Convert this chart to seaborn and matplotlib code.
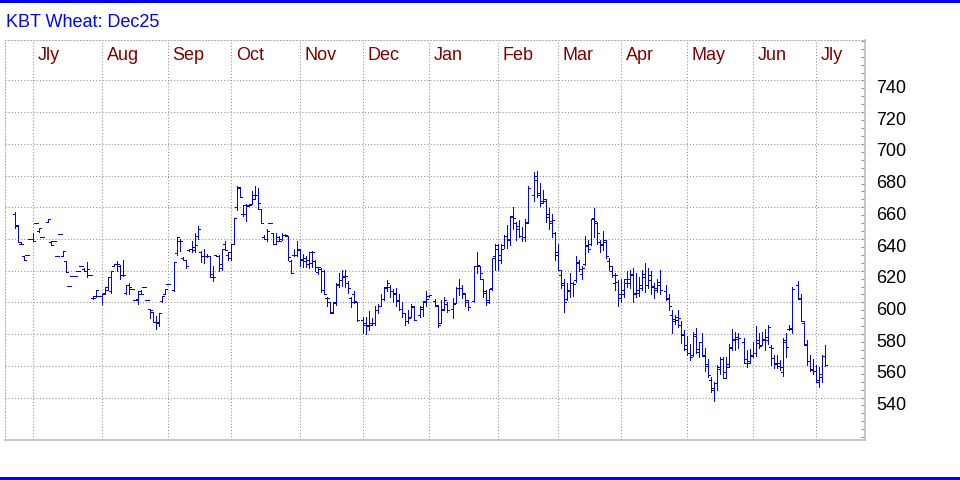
import numpy as np
import pandas as pd
import matplotlib.pyplot as plt
import seaborn as sns
from matplotlib.patches import Rectangle
from matplotlib.ticker import MultipleLocator
from matplotlib.transforms import ScaledTranslation, blended_transform_factory

#################### DATA ####################
# one slot per weekday, Jun 20 2024 .. Jul 3 2025; None = exchange holiday
start_day = "2024-06-20"
end_day = "2025-07-03"

opens = [
    656, 648, 637, 629, 630, 640,
    640, 650, 645, 641, None, 651, 638, 639, 629, 643,
    629.5, 626, 610.5, 616.5, 616.5, 620, 623, 621, 619.5, 617,
    603, 604, 604, 604, 606, 608, 607, 623, 624, 623,
    617, 606, 611, 608.5, 601.5, 602, 607, 609.5, 601.5, 596,
    594, 587.5, 587, 601, 605, 611.5, None, 608, 631, 639,
    628, 626.5, 633, 634, 633, 642, 632, 629, 629, 629,
    618, 630, 629, 622, 637, 630, 628, 637, 660, 672,
    656, 656, 661.5, 662, 668, 668, 659, 641, 640, 650,
    644, 637, 641, 640, 642.5, 642, 626, 630, 630, 633,
    627.5, 626, 624, 625, 626, 619, 621, 620, 603, 600,
    594, 600, 611, 614, 616, 612, 603, 605, 600, None,
    589, 587, 585, 587, 587, 595, 598, 602, 609, 610,
    607, 606, 601, 596, 593, 588, 591, 597, None, 592,
    596, 601, 604, None, 601, 598, 587, 596, 599, None,
    596, 599.5, 609, 609, 605, 600, None, 601, 623, 623,
    615, 606, 600, 609, 629, 634, 627, 636, 642, 640,
    654, 650, 648, 642, 641, 651, None, 668, 677, 668,
    664, 664, 654, 650, 644, 632, 617, 611, 602, 607,
    612, 614, 625, 618, 624, 636, 637, 653, 650, 638,
    636, 638, 626, 620, 612, 613, 603, 605, 612, 612,
    618, 605, 608, 609, 618, 611, 614, 610, 608, 613,
    None, 607, 602, 592, 589.5, 591, 586, 580, 573, 568,
    567, 580, 569, 575, 566, 560, 551, 545, 549, 558,
    564, 556, 561, 572, 576, 578, None, 575, 564, 563,
    566, 568, 576, 573, 577, 578, 572, 565, 562, 560,
    556, 575, 583, 584, None, 611, 603, 587, 573, 563,
    558, 557, 551, 553, 566,
]

highs = [
    657, 649, 638, 629, 630, 640,
    644, 650, 647, 641, None, 652.5, 638.5, 639, 629, 643,
    632.5, 626, 610.5, 616.5, 616.5, 620, 623, 622, 625.5, 617,
    604, 608, 604, 605, 609.5, 616, 620, 624, 626, 623.5,
    626.5, 611, 612, 608.5, 601.5, 607, 608, 609.5, 601.5, 596,
    594, 591.5, 593.5, 604, 608.5, 611.5, None, 625.5, 641, 640,
    628.5, 627, 634, 638.5, 644, 648.5, 632.5, 634, 630.5, 629,
    623, 630, 630, 633.5, 639, 632, 637, 653.5, 673.5, 672.5,
    661.5, 662, 662, 670.5, 673.5, 672, 659, 642.5, 646.5, 650,
    644, 643.5, 642, 643.5, 643, 642, 626.5, 634, 638.5, 633.5,
    630.5, 629, 631.5, 632.5, 626.5, 622.5, 622, 620.5, 603.5, 600.5,
    600, 612, 618.5, 620.5, 620.5, 613.5, 603.5, 607, 600.5, None,
    590.5, 590.5, 594.5, 590, 598, 599, 605.5, 609.5, 614, 611,
    608.5, 609, 605.5, 600, 593, 595.5, 599, 598, None, 597.5,
    601, 607.5, 604.5, None, 602, 598.5, 601.5, 603.5, 600.5, None,
    602.5, 609.5, 615, 611, 606, 601.5, None, 623, 631.5, 623,
    615, 608, 608.5, 628, 637, 637, 637, 642.5, 649, 654.5,
    660.5, 650.5, 652, 647.5, 652.5, 673.5, None, 682.5, 683, 675.5,
    671, 665.5, 659.5, 655.5, 644.5, 637, 620.5, 615, 612, 618.5,
    613, 629, 627, 623, 642, 639.5, 652.5, 659.5, 650.5, 639.5,
    645, 639.5, 628, 623, 618.5, 614, 614.5, 615, 619.5, 620.5,
    621.5, 618.5, 616, 620.5, 625, 621.5, 619.5, 612, 615, 620.5,
    None, 611, 605.5, 595, 592, 595, 588, 582.5, 579, 574,
    581.5, 584, 575, 580.5, 571, 564.5, 553, 549.5, 560.5, 565.5,
    565.5, 565.5, 573.5, 583, 581.5, 581, None, 577.5, 570, 570.5,
    575, 585, 581, 581.5, 583, 585.5, 573, 567, 567, 563.5,
    577.5, 581, 585.5, 610, None, 613.5, 605.5, 588.5, 576.5, 567,
    564, 560.5, 559, 567, 573,
]

lows = [
    647, 638, 637, 627, 630, 640,
    639, 650, 644.5, 641, None, 651, 636, 639, 629, 643,
    629.5, 619, 610.5, 616.5, 616.5, 620, 623, 619.5, 616, 617,
    602, 603.5, 604, 599, 605.5, 608, 606, 623, 619.5, 614.5,
    616.5, 605, 605, 608.5, 601.5, 599, 605.5, 609.5, 601.5, 590,
    587.5, 583.5, 585, 600.5, 605, 611.5, None, 607.5, 630, 632.5,
    626.5, 622, 632.5, 632, 631.5, 640, 625.5, 625, 628.5, 616,
    613.5, 629, 620, 620.5, 633, 627, 626.5, 637, 658.5, 666.5,
    654.5, 651.5, 661, 662, 665, 659, 650, 640, 639, 650,
    637, 637, 638.5, 639.5, 642, 626.5, 618.5, 629, 629, 623,
    622.5, 622.5, 622, 622.5, 619.5, 618, 606.5, 605.5, 597.5, 593,
    593.5, 598.5, 610, 610.5, 610, 606, 597, 599.5, 588.5, None,
    580.5, 580, 582.5, 585.5, 586, 593, 598, 601.5, 607.5, 603.5,
    600.5, 598, 595, 590.5, 586, 587, 590.5, 589, None, 591,
    591.5, 598, 603.5, None, 598, 584.5, 587, 595, 594, None,
    590, 599.5, 604.5, 602.5, 598, 595, None, 600.5, 618.5, 615,
    603.5, 598.5, 599.5, 608, 620.5, 620.5, 625, 634.5, 634.5, 636,
    646.5, 639.5, 641.5, 638.5, 638.5, 650, None, 664, 666.5, 661,
    662.5, 650.5, 646.5, 641, 627, 620.5, 609, 594, 601.5, 603.5,
    604, 613, 620, 615, 623.5, 632, 636, 641, 637, 632,
    633, 628, 620.5, 616, 608, 598, 600.5, 603.5, 610, 609,
    600.5, 603.5, 604, 608, 606.5, 609, 605.5, 603, 606.5, 605,
    None, 601.5, 595.5, 581, 586.5, 584.5, 574.5, 570, 567, 563.5,
    566, 568, 565.5, 566, 557, 553, 543.5, 538, 544.5, 555,
    552, 552, 559.5, 570, 570, 571, None, 561.5, 559.5, 561.5,
    565.5, 566, 571, 573, 570, 574, 560.5, 558.5, 558.5, 557.5,
    553.5, 565.5, 582.5, 581, None, 602, 588.5, 573, 560.5, 556.5,
    555, 549.5, 546.5, 550, 560,
]

closes = [
    649, 638, 637, 627, 630, 640,
    639, 650, 647, 641, None, 652.5, 636, 639, 629, 643,
    632.5, 619, 610.5, 616.5, 616.5, 620, 623, 619.5, 621, 617,
    603, 608, 604, 605, 609.5, 616, 620, 624, 624, 617,
    617.5, 611, 610, 608.5, 601.5, 605, 605.5, 609.5, 601.5, 595,
    587.5, 587.5, 593.5, 604, 608.5, 611.5, None, 625.5, 641, 638.5,
    627, 623, 633.5, 635, 636, 646.5, 629, 629, 629, 616,
    616, 629.5, 624, 633.5, 633, 632, 637, 653.5, 672.5, 666.5,
    661.5, 661, 661.5, 665.5, 668, 663, 650, 640, 645, 650,
    637, 638.5, 638.5, 642.5, 642.5, 628.5, 618.5, 630, 634, 627,
    628, 626.5, 631.5, 632, 622.5, 622.5, 608, 605.5, 603, 593.5,
    599.5, 611.5, 614, 616.5, 616.5, 609, 600.5, 601, 589, None,
    585.5, 585.5, 586, 587, 595, 598, 602, 609.5, 612, 607,
    605.5, 601.5, 596, 593, 588.5, 590, 597.5, 589, None, 597,
    600.5, 602, 604.5, None, 598.5, 585.5, 595.5, 601.5, 595.5, None,
    599, 609, 609, 606, 601.5, 597, None, 623, 623.5, 618.5,
    607.5, 601.5, 608.5, 628, 636, 630, 633.5, 642, 639.5, 654.5,
    653.5, 646.5, 642, 641.5, 650, 672, None, 680, 669, 663,
    665, 655.5, 651.5, 652, 630, 620.5, 612.5, 600.5, 608, 612,
    611.5, 625.5, 621, 622, 635.5, 633.5, 652.5, 651.5, 644, 637,
    639.5, 629, 623, 617.5, 617.5, 605.5, 608, 614.5, 615, 617,
    606, 606, 611, 616, 611, 617, 610.5, 609, 611, 608,
    None, 603, 598, 588.5, 589, 590, 579.5, 570.5, 568, 565.5,
    579, 570.5, 575, 567, 561, 554, 546, 549, 559, 564.5,
    552.5, 559, 571.5, 577, 577, 577.5, None, 562, 561.5, 567,
    568, 574.5, 572.5, 576, 576.5, 584.5, 571, 561, 561.5, 559.5,
    576.5, 572, 583, 608.5, None, 602, 588.5, 574, 563, 557.5,
    556.5, 549.5, 555, 566, 560.5,
]

month_names = {1: "Jan", 2: "Feb", 3: "Mar", 4: "Apr", 5: "May", 6: "Jun",
               7: "Jly", 8: "Aug", 9: "Sep", 10: "Oct", 11: "Nov", 12: "Dec"}
price_ticks = list(range(540, 741, 20))
chart_title = "KBT Wheat: Dec25"

#################### CONFIG ####################
sns.set_theme(style="white")
plt.rcParams["font.family"] = ["Liberation Sans", "DejaVu Sans"]
plt.rcParams["font.size"] = 13

BAR_BLUE = "#0000FF"
MONTH_RED = "#800000"
GRID = "#8C8C8C"
FRAME = "#BDBDBD"
DOTS = (0, (1, 2))

days = pd.bdate_range(start_day, end_day)
df = pd.DataFrame({"day": days, "open": opens, "high": highs,
                   "low": lows, "close": closes})
df["pos"] = np.arange(len(df))
bars = df.dropna()

#################### PLOT ####################
fig = plt.figure(figsize=(9.6, 4.8), dpi=100)
ax = fig.add_axes([5.3 / 960, 39.7 / 480, 860 / 960, 400.3 / 480])

tick_w = 0.67
bar_kw = dict(color=BAR_BLUE, lw=0.72, antialiased=False, zorder=3)
ax.vlines(bars["pos"], bars["low"], bars["high"], **bar_kw)
ax.hlines(bars["open"], bars["pos"] - tick_w, bars["pos"], **bar_kw)
ax.hlines(bars["close"], bars["pos"], bars["pos"] + tick_w, **bar_kw)

ax.set_xlim(-3.33, 283.3)
ax.set_ylim(513.0, 765.55)

# month separators sit on the last weekday of each month
trans = blended_transform_factory(ax.transData, ax.transAxes)
month_end = df.index[df["day"].dt.month != df["day"].shift(-1).dt.month][:-1]
for i in month_end:
    ax.axvline(i, color=GRID, lw=0.75, ls=DOTS, zorder=1)
    ax.text(i + 1.45, 0.95, month_names[df.loc[i + 1, "day"].month],
            transform=trans, color=MONTH_RED, fontsize=13, va="baseline")

ax.set_xticks([])
ax.yaxis.tick_right()
ax.set_yticks(price_ticks)
ax.yaxis.set_minor_locator(MultipleLocator(5))
ax.tick_params(axis="y", which="both", direction="in", length=3,
               color="#909090", width=0.8, labelsize=13, pad=8,
               labelcolor="black")
ax.grid(axis="y", color=GRID, lw=0.75, ls=DOTS, zorder=1)
ax.set_axisbelow(True)

# labels hang just below their grid line
shift = ScaledTranslation(0, -0.06, fig.dpi_scale_trans)
for lbl in ax.get_yticklabels():
    lbl.set_transform(lbl.get_transform() + shift)

for side in ["left", "top"]:
    ax.spines[side].set_color("#B0B0B0")
    ax.spines[side].set_linestyle(DOTS)
    ax.spines[side].set_linewidth(0.75)
for side in ["right", "bottom"]:
    ax.spines[side].set_color(FRAME)
    ax.spines[side].set_linewidth(1.2)

fig.text(6 / 960, 1 - 27.3 / 480, chart_title, color=BAR_BLUE, fontsize=13,
         va="baseline")
fig.add_artist(Rectangle((0, 1 - 2.7 / 480), 1, 2.7 / 480,
                         transform=fig.transFigure, color=BAR_BLUE, lw=0))
fig.add_artist(Rectangle((0, 0), 1, 2.7 / 480,
                         transform=fig.transFigure, color=BAR_BLUE, lw=0))

fig.savefig("out.png", dpi=100, facecolor="white")
